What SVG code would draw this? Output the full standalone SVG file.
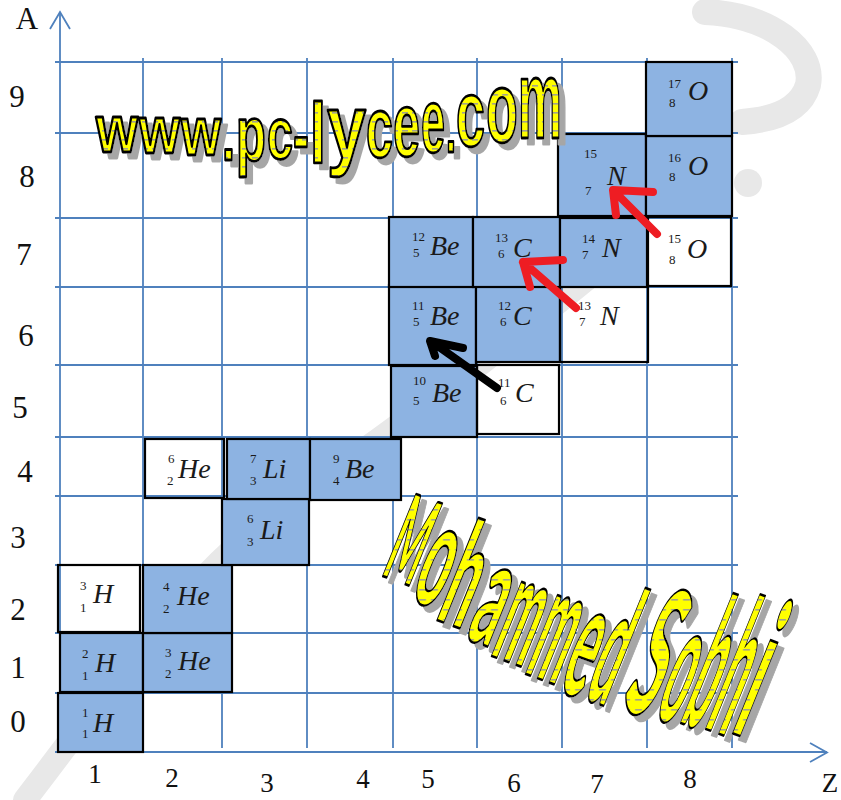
<svg xmlns="http://www.w3.org/2000/svg" width="841" height="800" viewBox="0 0 841 800">
<defs>
<style>
.grid{stroke:#4f81bd;stroke-width:1.8;fill:none}
.box{stroke:#000;stroke-width:2.2}
.blue{fill:#8db3e2}
.white{fill:none}
.n{font-family:"Liberation Serif",serif;font-size:13px;fill:#1a1a1a}
.s{font-family:"Liberation Serif",serif;font-style:italic;font-size:28px;fill:#1a1a1a}
.ax{font-family:"Liberation Serif",serif;font-size:31px;fill:#111;text-anchor:middle}
.axx{font-family:"Liberation Serif",serif;font-size:27px;fill:#111;text-anchor:middle}
.wm{stroke:#e8e8e8;fill:none;stroke-linecap:round;stroke-linejoin:round}
.red{stroke:#ee1d23;stroke-width:8;fill:none;stroke-linecap:round;stroke-linejoin:round}
.blk{stroke:#000;stroke-width:8;fill:none;stroke-linecap:round;stroke-linejoin:round}
.wa{font-family:"Liberation Sans",Arial,sans-serif;font-weight:bold;stroke:#000;stroke-width:2.8;stroke-linejoin:round}
.wb{font-family:Lato,"Liberation Sans",Arial,sans-serif;font-weight:900;stroke:#000;stroke-width:2.6;stroke-linejoin:round}
</style>
<pattern id="dashA" width="10" height="9" patternUnits="userSpaceOnUse" patternTransform="scale(2,1)"><rect width="10" height="9" fill="#ffff00"/><rect x="2" y="4" width="6" height="1.6" fill="#a3a38a"/></pattern>
<pattern id="dashB" width="12" height="10" patternUnits="userSpaceOnUse" patternTransform="matrix(2.7274,-0.3422,1.1033,0.9403,0,0)"><rect width="12" height="10" fill="#ffff00"/><rect x="3" y="4" width="7" height="1.6" fill="#a3a38a"/></pattern>
<filter id="shadow" x="-10%" y="-10%" width="130%" height="130%">
<feOffset in="SourceAlpha" dx="6" dy="6" result="o"/>
<feFlood flood-color="#a6a6a6"/>
<feComposite in2="o" operator="in" result="s"/>
<feMerge><feMergeNode in="s"/><feMergeNode in="SourceGraphic"/></feMerge>
</filter>
</defs>
<rect width="841" height="800" fill="#fff"/>
<g id="watermark">
<path class="wm" d="M 25 800 C 110 690 190 570 300 495 S 500 350 600 268" stroke-width="24"/>
<path class="wm" d="M 705 12 C 770 15 815 50 808 85 C 800 112 770 120 742 122" stroke-width="26"/>
<circle cx="748" cy="183" r="14" fill="#e8e8e8"/>
</g>
<g id="grid">
<path class="grid" d="M143 58V748M222 58V748M307 58V748M393 58V748M477 58V748M562 58V748M647 58V748M732 58V748"/>
<path class="grid" d="M55 62H738M55 133H738M55 218H738M55 287H738M55 365H738M55 437H738M55 496H738M55 565H738M55 633H738M55 693H738"/>
</g>
<g id="axes">
<path class="grid" d="M60 12V752M55 752H827"/>
<path class="grid" d="M50 29L60 12L70 29M810 743L827 752.5L810 762"/>
<text class="ax" x="27" y="29" font-size="32">A</text>
<text class="ax" x="17" y="107">9</text>
<text class="ax" x="27" y="187">8</text>
<text class="ax" x="24" y="265">7</text>
<text class="ax" x="26" y="346">6</text>
<text class="ax" x="20" y="418">5</text>
<text class="ax" x="25" y="482">4</text>
<text class="ax" x="18" y="548">3</text>
<text class="ax" x="18" y="620">2</text>
<text class="ax" x="18" y="678">1</text>
<text class="ax" x="18" y="732">0</text>
<text class="axx" x="95" y="783">1</text>
<text class="axx" x="172" y="787">2</text>
<text class="axx" x="267" y="792">3</text>
<text class="axx" x="363" y="788">4</text>
<text class="axx" x="428" y="788">5</text>
<text class="axx" x="514" y="792">6</text>
<text class="axx" x="597" y="793">7</text>
<text class="axx" x="690" y="788">8</text>
<text class="axx" x="830" y="792" font-size="32">Z</text>
</g>
<g id="n-H1"><rect class="box blue" x="58" y="693" width="85" height="59"/><text><tspan class="n" x="82" y="717">1</tspan><tspan class="n" x="82" y="738">1</tspan><tspan class="s" x="93" y="732">H</tspan></text></g>
<g id="n-H2"><rect class="box blue" x="60" y="633" width="83" height="59"/><text><tspan class="n" x="82" y="658">2</tspan><tspan class="n" x="82" y="680">1</tspan><tspan class="s" x="95" y="672">H</tspan></text></g>
<g id="n-He3"><rect class="box blue" x="143" y="633" width="89" height="59"/><text><tspan class="n" x="165" y="657">3</tspan><tspan class="n" x="165" y="678">2</tspan><tspan class="s" x="178" y="670">He</tspan></text></g>
<g id="n-H3"><rect class="box white" x="58" y="565" width="82" height="67"/><text><tspan class="n" x="80" y="590">3</tspan><tspan class="n" x="80" y="612">1</tspan><tspan class="s" x="93" y="603">H</tspan></text></g>
<g id="n-He4"><rect class="box blue" x="143" y="565" width="89" height="68"/><text><tspan class="n" x="163" y="591">4</tspan><tspan class="n" x="163" y="613">2</tspan><tspan class="s" x="177" y="605">He</tspan></text></g>
<g id="n-Li6"><rect class="box blue" x="222" y="499" width="87" height="66"/><text><tspan class="n" x="247" y="523">6</tspan><tspan class="n" x="247" y="546">3</tspan><tspan class="s" x="260" y="539">Li</tspan></text></g>
<g id="n-He6"><rect class="box white" x="145" y="439" width="79" height="59"/><text><tspan class="n" x="168" y="463">6</tspan><tspan class="n" x="167" y="485">2</tspan><tspan class="s" x="178" y="478">He</tspan></text></g>
<g id="n-Li7"><rect class="box blue" x="227" y="439" width="83" height="60"/><text><tspan class="n" x="250" y="463">7</tspan><tspan class="n" x="250" y="485">3</tspan><tspan class="s" x="263" y="478">Li</tspan></text></g>
<g id="n-Be9"><rect class="box blue" x="310" y="439" width="91" height="61"/><text><tspan class="n" x="333" y="463">9</tspan><tspan class="n" x="333" y="485">4</tspan><tspan class="s" x="345" y="478">Be</tspan></text></g>
<g id="n-Be10"><rect class="box blue" x="391" y="366" width="86" height="71"/><text><tspan class="n" x="413" y="385">10</tspan><tspan class="n" x="413" y="405">5</tspan><tspan class="s" x="432" y="402" font-size="30">Be</tspan></text></g>
<g id="n-C11"><rect class="box white" x="477" y="365" width="82" height="69"/><text><tspan class="n" x="498" y="387">11</tspan><tspan class="n" x="500" y="405">6</tspan><tspan class="s" x="515" y="402" font-size="30">C</tspan></text></g>
<g id="n-Be11"><rect class="box blue" x="389" y="285" width="87" height="80"/><text><tspan class="n" x="412" y="310">11</tspan><tspan class="n" x="413" y="326">5</tspan><tspan class="s" x="430" y="325" font-size="27">Be</tspan></text></g>
<g id="n-C12"><rect class="box blue" x="476" y="285" width="84" height="77"/><text><tspan class="n" x="498" y="310">12</tspan><tspan class="n" x="500" y="326">6</tspan><tspan class="s" x="513" y="325" font-size="29">C</tspan></text></g>
<g id="n-N13"><rect class="box white" x="560" y="285" width="88" height="77"/><text><tspan class="n" x="578" y="310">13</tspan><tspan class="n" x="579" y="326">7</tspan><tspan class="s" x="600" y="325" font-size="29">N</tspan></text></g>
<g id="n-Be12"><rect class="box blue" x="389" y="217" width="84" height="70"/><text><tspan class="n" x="412" y="241">12</tspan><tspan class="n" x="413" y="257">5</tspan><tspan class="s" x="430" y="255" font-size="26">Be</tspan></text></g>
<g id="n-C13"><rect class="box blue" x="473" y="217" width="87" height="70"/><text><tspan class="n" x="495" y="242">13</tspan><tspan class="n" x="498" y="258">6</tspan><tspan class="s" x="513" y="257">C</tspan></text></g>
<g id="n-N14"><rect class="box blue" x="560" y="218" width="87" height="69"/><text><tspan class="n" x="582" y="243">14</tspan><tspan class="n" x="582" y="259">7</tspan><tspan class="s" x="602" y="257" font-size="29">N</tspan></text></g>
<g id="n-O15"><rect class="box white" x="648" y="217" width="83" height="69"/><text><tspan class="n" x="668" y="243">15</tspan><tspan class="n" x="669" y="264">8</tspan><tspan class="s" x="687" y="258">O</tspan></text></g>
<g id="n-N15"><rect class="box blue" x="558" y="134" width="88" height="82"/><text><tspan class="n" x="584" y="158" font-size="16">15</tspan><tspan class="n" x="585" y="195" font-size="18">7</tspan><tspan class="s" x="607" y="185" font-size="40">N</tspan></text></g>
<g id="n-O16"><rect class="box blue" x="646" y="136" width="86" height="80"/><text><tspan class="n" x="668" y="162">16</tspan><tspan class="n" x="669" y="181">8</tspan><tspan class="s" x="688" y="175">O</tspan></text></g>
<g id="n-O17"><rect class="box blue" x="646" y="62" width="86" height="74"/><text><tspan class="n" x="668" y="88">17</tspan><tspan class="n" x="669" y="107">8</tspan><tspan class="s" x="688" y="100" font-size="27">O</tspan></text></g>
<g id="connectors">
<path class="red" d="M657 234L614 191M653 192L613 190L616 215"/>
<path class="red" d="M576 308L523 262M563 260L523 262L530 287"/>
<path class="blk" d="M497 388L432 342M463 348L430 341L435 356"/>
</g>
<g id="wordart-site" filter="url(#shadow)">
<text class="wa" fill="url(#dashA)" vector-effect="non-scaling-stroke" transform="scale(0.5,1)"><tspan x="192" y="152" font-size="66" textLength="84" lengthAdjust="spacingAndGlyphs">w</tspan><tspan x="278" y="153" font-size="67" textLength="82" lengthAdjust="spacingAndGlyphs">w</tspan><tspan x="362" y="155" font-size="69" textLength="80" lengthAdjust="spacingAndGlyphs">w</tspan><tspan x="444" y="160" font-size="70" textLength="26" lengthAdjust="spacingAndGlyphs">.</tspan><tspan x="472" y="161" font-size="77" textLength="60" lengthAdjust="spacingAndGlyphs">p</tspan><tspan x="534" y="159" font-size="74" textLength="52" lengthAdjust="spacingAndGlyphs">c</tspan><tspan x="586" y="163" font-size="80" textLength="32" lengthAdjust="spacingAndGlyphs">-</tspan><tspan x="620" y="163" font-size="86" textLength="32" lengthAdjust="spacingAndGlyphs">l</tspan><tspan x="654" y="158" font-size="90" textLength="78" lengthAdjust="spacingAndGlyphs">y</tspan><tspan x="732" y="157" font-size="85" textLength="54" lengthAdjust="spacingAndGlyphs">c</tspan><tspan x="786" y="156" font-size="90" textLength="54" lengthAdjust="spacingAndGlyphs">e</tspan><tspan x="842" y="152" font-size="90" textLength="48" lengthAdjust="spacingAndGlyphs">e</tspan><tspan x="892" y="152" font-size="70" textLength="20" lengthAdjust="spacingAndGlyphs">.</tspan><tspan x="912" y="146" font-size="95" textLength="58" lengthAdjust="spacingAndGlyphs">c</tspan><tspan x="972" y="142" font-size="100" textLength="64" lengthAdjust="spacingAndGlyphs">o</tspan><tspan x="1036" y="138" font-size="112" textLength="88" lengthAdjust="spacingAndGlyphs">m</tspan></text>
</g>
<g id="wordart-name" filter="url(#shadow)">
<text class="wb" fill="url(#dashB)" vector-effect="non-scaling-stroke" transform="matrix(0.3196,0.1163,-0.375,0.927,380,575)"><tspan x="0" y="0" font-size="122" textLength="100" lengthAdjust="spacingAndGlyphs">M</tspan><tspan x="102.85" y="12.99" font-size="150" textLength="90" lengthAdjust="spacingAndGlyphs">o</tspan><tspan x="195.83" y="22.89" font-size="148" textLength="90" lengthAdjust="spacingAndGlyphs">h</tspan><tspan x="298.61" y="30.5" font-size="150" textLength="83" lengthAdjust="spacingAndGlyphs">a</tspan><tspan x="385.55" y="37.92" font-size="155" textLength="108" lengthAdjust="spacingAndGlyphs">m</tspan><tspan x="498.14" y="43.22" font-size="165" textLength="105" lengthAdjust="spacingAndGlyphs">m</tspan><tspan x="606.9" y="47.9" font-size="165" textLength="78" lengthAdjust="spacingAndGlyphs">e</tspan><tspan x="686.64" y="46.54" font-size="168" textLength="108" lengthAdjust="spacingAndGlyphs">d </tspan><tspan x="798.59" y="43.27" font-size="182" textLength="96" lengthAdjust="spacingAndGlyphs">S</tspan><tspan x="898.52" y="40.44" font-size="175" textLength="74" lengthAdjust="spacingAndGlyphs">o</tspan><tspan x="974.96" y="36.24" font-size="188" textLength="73" lengthAdjust="spacingAndGlyphs">b</tspan><tspan x="1049.75" y="33.34" font-size="195" textLength="73" lengthAdjust="spacingAndGlyphs">h</tspan><tspan x="1125.08" y="28.2" font-size="195" textLength="46" lengthAdjust="spacingAndGlyphs">i</tspan></text>
</g>
</svg>
